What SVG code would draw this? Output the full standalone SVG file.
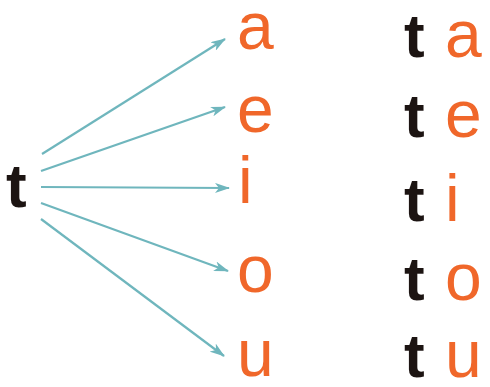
<svg xmlns="http://www.w3.org/2000/svg" width="490" height="387" viewBox="0 0 490 387">
<style>
.k{font-family:"Liberation Sans",Arial,sans-serif;font-size:62px;font-weight:bold;fill:#1c1412}
.v{font-family:"Liberation Sans",Arial,sans-serif;font-size:66px;fill:#f0672a}
.c{stroke:#6fb6bd;stroke-width:2.2;fill:none;marker-end:url(#ah)}
</style>
<defs>
<marker id="ah" viewBox="0 0 15 10" refX="14" refY="5" markerWidth="15" markerHeight="10" orient="auto" markerUnits="userSpaceOnUse">
<path d="M0,0 L15,5 L0,10 L4,5 z" fill="#6fb6bd"/>
</marker>
</defs>
<rect width="490" height="387" fill="#fff"/>
<g id="connectors">
<line class="c" x1="42" y1="154" x2="225" y2="39"/>
<line class="c" x1="41" y1="171" x2="225" y2="107"/>
<line class="c" x1="41" y1="187" x2="229" y2="188"/>
<line class="c" x1="41" y1="203" x2="228" y2="271"/>
<line class="c" x1="41" y1="219" x2="224" y2="356"/>
</g>
<g id="t-source"><text class="k" x="6" y="207">t</text></g>
<g id="v-a"><text class="v" x="237" y="49">a</text></g>
<g id="v-e"><text class="v" x="237" y="132">e</text></g>
<g id="v-i"><text class="v" x="238" y="203">i</text></g>
<g id="v-o"><text class="v" x="237" y="292">o</text></g>
<g id="v-u"><text class="v" x="237" y="376">u</text></g>
<g id="ta"><text class="k" x="404" y="57">t</text><text class="v" x="445" y="57">a</text></g>
<g id="te"><text class="k" x="404" y="137">t</text><text class="v" x="445" y="137">e</text></g>
<g id="ti"><text class="k" x="404" y="221">t</text><text class="v" x="445" y="221">i</text></g>
<g id="to"><text class="k" x="404" y="300">t</text><text class="v" x="445" y="300">o</text></g>
<g id="tu"><text class="k" x="404" y="377">t</text><text class="v" x="445" y="377">u</text></g>
</svg>
